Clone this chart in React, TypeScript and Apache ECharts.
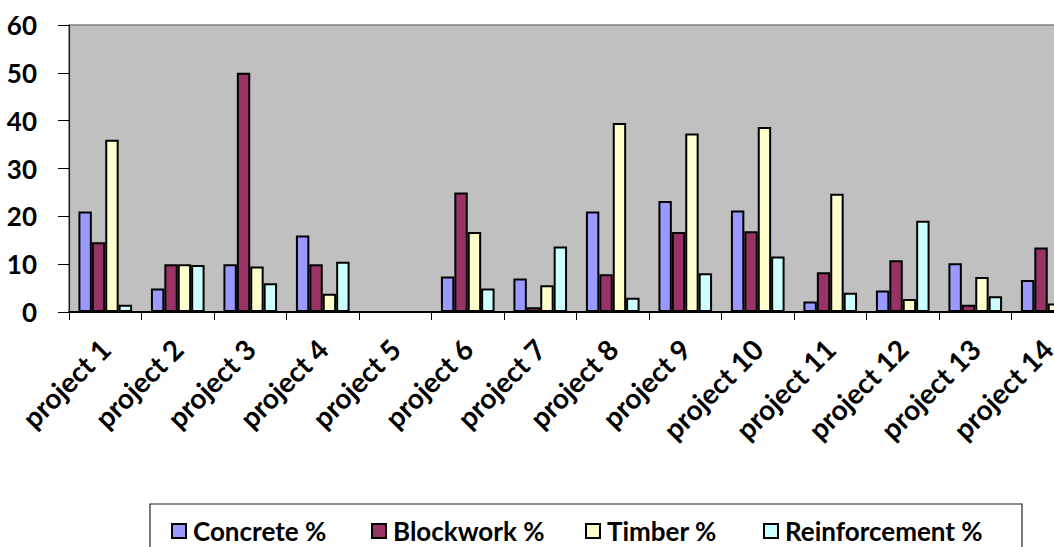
import React, { useEffect, useRef } from "react";
import * as echarts from "echarts";

const categories = [
  "project 1", "project 2", "project 3", "project 4", "project 5", "project 6", "project 7",
  "project 8", "project 9", "project 10", "project 11", "project 12", "project 13", "project 14",
];
const concrete = [21.0, 4.9, 10.0, 16.0, 0, 7.4, 7.0, 21.0, 23.2, 21.2, 2.2, 4.5, 10.2, 6.7];
const blockwork = [14.6, 10.0, 50.0, 10.0, 0, 25.0, 1.0, 7.9, 16.7, 16.9, 8.3, 10.8, 1.5, 13.5];
const timber = [36.0, 10.0, 9.5, 3.8, 0, 16.7, 5.6, 39.5, 37.3, 38.7, 24.7, 2.7, 7.3, 1.8];
const reinforcement = [1.5, 9.8, 6.0, 10.5, 0, 4.9, 13.7, 3.0, 8.1, 11.6, 4.0, 19.1, 3.3, 4.0];
const seriesNames = ["Concrete %", "Blockwork %", "Timber %", "Reinforcement %"];
const seriesColors = ["#9999FF", "#993366", "#FFFFCC", "#CCFFFF"];
const yTicks = { min: 0, max: 60, interval: 10 };

const FONT = "Lato";
const legendLefts = [171, 371, 585, 763];

export default function App() {
  const ref = useRef<HTMLDivElement>(null);
  useEffect(() => {
    if (!ref.current) return;
    const chart = echarts.init(ref.current, null, { renderer: "svg" });
    const data = [concrete, blockwork, timber, reinforcement];
    chart.setOption({
      animation: false,
      backgroundColor: "#ffffff",
      grid: {
        left: 69,
        top: 25,
        right: 36,
        bottom: 235,
        containLabel: false,
        show: true,
        backgroundColor: "#C0C0C0",
        borderColor: "#808080",
        borderWidth: 1.5,
      },
      legend: seriesNames.map((name, i) => ({
        left: legendLefts[i],
        top: 518,
        padding: 0,
        itemWidth: 14,
        itemHeight: 14,
        icon: "rect",
        textStyle: {
          fontFamily: FONT,
          fontWeight: "bold",
          fontSize: 26,
          color: "#000",
          padding: [0, 0, 0, 2],
        },
        data: [name],
      })),
      graphic: [
        {
          type: "rect",
          shape: { x: 150, y: 504, width: 872, height: 60 },
          style: { fill: "none", stroke: "#222", lineWidth: 1.2 },
          silent: true,
        },
      ],
      xAxis: {
        type: "category",
        data: categories,
        boundaryGap: true,
        axisLine: { show: true, lineStyle: { color: "#000", width: 2 } },
        axisTick: { show: true, length: 8, lineStyle: { color: "#000", width: 1 } },
        axisLabel: {
          rotate: 45,
          margin: 32,
          interval: 0,
          fontFamily: FONT,
          fontWeight: "bold",
          fontSize: 28,
          color: "#000",
        },
      },
      yAxis: {
        type: "value",
        min: yTicks.min,
        max: yTicks.max,
        interval: yTicks.interval,
        axisLine: { show: true, lineStyle: { color: "#222", width: 1.2 } },
        axisTick: { show: true, length: 11, lineStyle: { color: "#000", width: 1 } },
        splitLine: { show: false },
        axisLabel: {
          margin: 32,
          fontFamily: FONT,
          fontWeight: "bold",
          fontSize: 26,
          color: "#000",
        },
      },
      series: seriesNames.map((name, i) => ({
        name,
        type: "bar",
        data: data[i],
        barGap: "0%",
        barCategoryGap: "26%",
        itemStyle: { color: seriesColors[i], borderColor: "#000", borderWidth: 2 },
      })),
    });
    return () => chart.dispose();
  }, []);
  return (
    <div
      style={{
        position: "fixed",
        left: 0,
        top: 0,
        width: 1054,
        height: 547,
        overflow: "hidden",
        background: "#fff",
      }}
    >
      <div ref={ref} style={{ width: 1120, height: 547 }} />
    </div>
  );
}
